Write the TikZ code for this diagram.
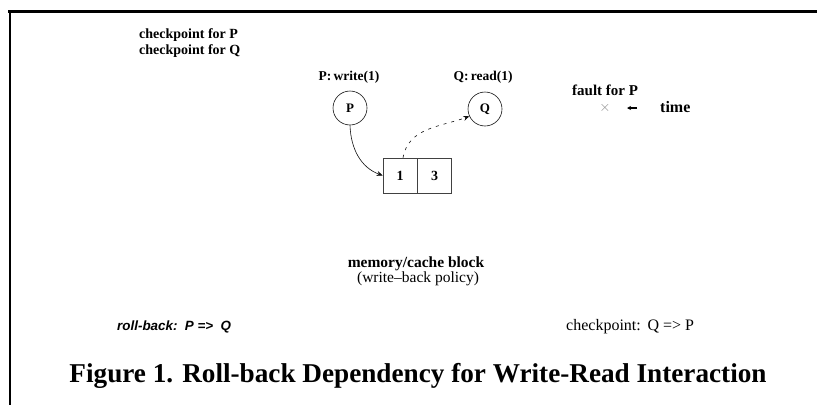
\documentclass[tikz,border=0pt]{standalone}
\usepackage{fontspec}
\setmainfont{Liberation Serif}
\newfontfamily\helv{Liberation Sans}
\usetikzlibrary{positioning,arrows.meta,calc}
\definecolor{mInk}{HTML}{111111}
\definecolor{mGrey}{HTML}{8A8A8A}
\tikzset{
  proc/.style={draw=mInk, circle, line width=0.6pt, minimum size=34pt, inner sep=0pt, font=\fontsize{13}{15}\selectfont\bfseries},
  cell/.style={draw=mInk!80, line width=0.6pt, minimum width=34pt, minimum height=35pt, inner sep=0pt, font=\fontsize{14}{16}\selectfont\bfseries},
  lbl/.style={inner sep=0pt, font=\fontsize{14}{16}\selectfont\bfseries},
  wr/.style={-{Stealth[length=6pt,width=5pt]}, line width=0.6pt, mInk},
  rd/.style={-{Stealth[length=6pt,width=5pt]}, line width=0.6pt, mInk, dash pattern=on 3pt off 5pt},
}
\begin{document}
\begin{tikzpicture}[x=1pt,y=-1pt]
\useasboundingbox (0,0) rectangle (817,410);
% frame
\draw[line width=3pt] (8,11) -- (817,11);
\draw[line width=2pt] (9.5,10) -- (9.5,405);
% legend
\node[lbl, anchor=west] (ckp) at (139,35) {checkpoint for P};
\node[lbl, anchor=west] (ckq) at (139,51) {checkpoint for Q};
% processes
\node[proc] (P) at (350,108) {P};
\node[proc] (Q) at (485,109) {Q};
\node[lbl, font=\fontsize{13.5}{15}\selectfont\bfseries] (pw) at (349,77) {P:\,write(1)};
\node[lbl, font=\fontsize{13.5}{15}\selectfont\bfseries] (qr) at (483,77) {Q:\,read(1)};
% fault and time
\node[lbl, anchor=west, font=\fontsize{15}{17}\selectfont\bfseries] (fault) at (572,90) {fault for P};
\node[text=mGrey, inner sep=0pt, font=\fontsize{14}{16}\selectfont] (x) at (605,108) {$\times$};
\node[lbl, anchor=west, font=\fontsize{16}{18}\selectfont\bfseries] (time) at (660,107) {time};
\coordinate (ta) at (637,108);
\coordinate (tb) at (627,108);
\draw[-{Stealth[length=4pt,width=4pt]}, line width=1.2pt] (ta) -- (tb);
% memory block
\node[cell] (c1) at (400,175.5) {1};
\node[cell, right=0pt of c1] (c3) {3};
\draw[wr] (P.south) to[out=-88, in=160] (c1.west);
\draw[rd] ($(c1.north)+(3,0)$) to[out=80, in=200] (Q.205);
\node[lbl, font=\fontsize{15.5}{17}\selectfont\bfseries] (mem) at (416,264) {memory/cache block};
\node[inner sep=0pt, font=\fontsize{15.5}{17}\selectfont] (pol) at (418,279) {(write--back policy)};
% dependencies
\node[inner sep=0pt, anchor=west, font=\helv\fontsize{13.4}{15}\selectfont\bfseries\itshape] (rb) at (117,327) {roll-back:\ \ P => \ Q};
\node[inner sep=0pt, anchor=west, font=\fontsize{16}{18}\selectfont] (cq) at (566,327) {checkpoint:\ \,Q => P};
% caption
\node[inner sep=0pt, font=\fontsize{27.2}{30}\selectfont\bfseries] (cap) at (418,376) {Figure 1. Roll-back Dependency for Write-Read Interaction};
\end{tikzpicture}
\end{document}
